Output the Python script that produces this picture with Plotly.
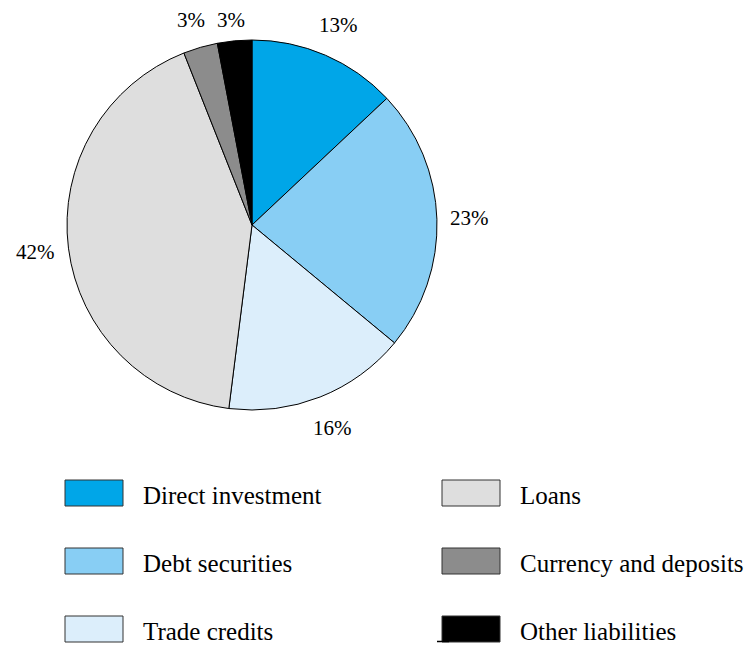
import math
import plotly.graph_objects as go

categories = ["Direct investment", "Debt securities", "Trade credits",
              "Loans", "Currency and deposits", "Other liabilities"]
values = [13, 23, 16, 42, 3, 3]
colors = ["#00A6E8", "#88CEF4", "#DCEEFB", "#DEDEDE", "#8C8C8C", "#000000"]

W, H = 749, 646
cx, cy, r = 252, 225, 185

fig = go.Figure(go.Pie(
    labels=categories, values=values, sort=False, direction="clockwise",
    rotation=0, marker=dict(colors=colors, line=dict(color="#000000", width=1)),
    textinfo="none",
    domain=dict(x=[(cx - r) / W, (cx + r) / W], y=[1 - (cy + r) / H, 1 - (cy - r) / H]),
    showlegend=False, hoverinfo="label+percent",
))

shapes, annotations = [], []

# percentage labels placed radially outside the slices
total = sum(values)
cum = 0
label_r = r + 33
for v in values:
    mid = (cum + v / 2) / total * 2 * math.pi
    cum += v
    lx = cx + label_r * math.sin(mid)
    ly = max(cy - label_r * math.cos(mid), 20)
    annotations.append(dict(x=lx / W, y=1 - ly / H, xref="paper", yref="paper",
                            text=f"{round(v / total * 100)}%", showarrow=False,
                            xanchor="center", yanchor="middle",
                            font=dict(family="Liberation Serif", size=21, color="#000000")))

legend_cols = [(65, 141), (442, 518)]
legend_rows = [493, 561, 629]
for i, (name, col) in enumerate(zip(categories, colors)):
    (sx, tx) = legend_cols[i // 3]
    yc = legend_rows[i % 3]
    shapes.append(dict(type="rect", xref="paper", yref="paper",
                       x0=sx / W, x1=(sx + 58) / W, y0=1 - (yc + 13) / H, y1=1 - (yc - 13) / H,
                       fillcolor=col, line=dict(color="#333333", width=1)))
    annotations.append(dict(x=tx / W, y=1 - (yc + 2) / H, xref="paper", yref="paper",
                            text=name, showarrow=False, xanchor="left", yanchor="middle",
                            font=dict(family="Liberation Serif", size=25, color="#000000")))

# small stray stroke at the last swatch's lower-left corner
shapes.append(dict(type="line", xref="paper", yref="paper",
                   x0=437 / W, x1=449 / W, y0=1 - 641.5 / H, y1=1 - 641.5 / H,
                   line=dict(color="#000000", width=1.5)))

fig.update_layout(width=W, height=H, margin=dict(l=0, r=0, t=0, b=0),
                  paper_bgcolor="white", plot_bgcolor="white",
                  shapes=shapes, annotations=annotations)
fig.write_html("out.html", config={"displayModeBar": False},
               post_script="document.body.style.margin='0px';")
